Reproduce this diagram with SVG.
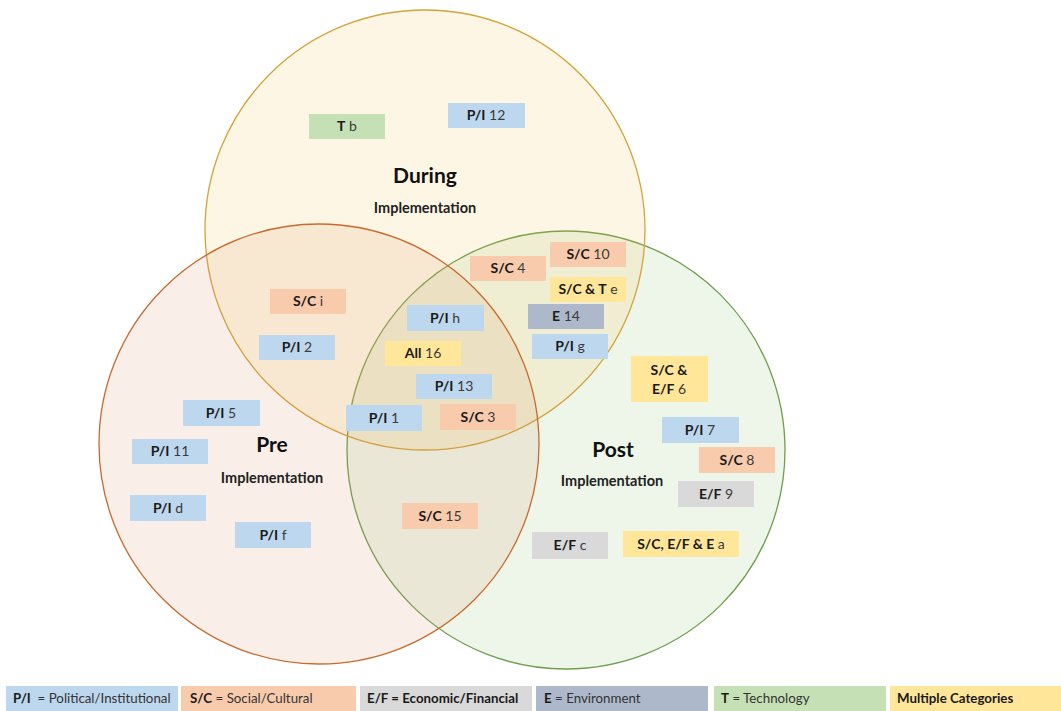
<svg xmlns="http://www.w3.org/2000/svg" width="1061" height="711" viewBox="0 0 1061 711">
  <style>
    .lbl { font-family: Lato, "Liberation Sans", sans-serif; font-size: 14px; fill: #3a3a3a; text-anchor: middle; }
    .lbl .b { font-weight: bold; fill: #1a1a1a; }
    .title { font-family: Lato, "Liberation Sans", sans-serif; font-size: 21px; font-weight: bold; fill: #111; text-anchor: middle; }
    .sub { font-family: Lato, "Liberation Sans", sans-serif; font-size: 14.5px; font-weight: bold; fill: #222; text-anchor: middle; }
    .leg { font-family: Lato, "Liberation Sans", sans-serif; font-size: 13.3px; fill: #333; white-space: pre; }
    .leg .b { font-weight: bold; fill: #1a1a1a; }
    .pi { fill: #BDD7EE; }
    .sc { fill: #F8CBAD; }
    .ef { fill: #D9D9D9; }
    .en { fill: #ADB9CA; }
    .te { fill: #C5E0B4; }
    .mc { fill: #FFE699; }
  </style>
  <rect width="1061" height="711" fill="#ffffff"/>

  <!-- three phase circles -->
  <g id="circles">
    <circle id="post" cx="566" cy="450" r="219" fill="#87BC6C" fill-opacity="0.14" stroke="#6E9E4E" stroke-width="1.3"/>
    <circle id="during" cx="425" cy="230" r="220" fill="#F8BC44" fill-opacity="0.14" stroke="#D4A33A" stroke-width="1.3"/>
    <circle id="pre" cx="319" cy="444" r="220" fill="#D78E5F" fill-opacity="0.14" stroke="#C86A2E" stroke-width="1.3"/>
  </g>

  <!-- phase titles -->
  <g id="titles">
    <text class="title" x="425" y="183">During</text>
    <text class="sub" x="425" y="213">Implementation</text>
    <text class="title" x="272" y="452">Pre</text>
    <text class="sub" x="272" y="483">Implementation</text>
    <text class="title" x="613" y="457">Post</text>
    <text class="sub" x="612" y="486">Implementation</text>
  </g>

  <!-- factor boxes -->
  <g id="nodes">
    <g id="n-tb"><rect class="te" x="309" y="114" width="76" height="25"/><text class="lbl" x="347" y="131"><tspan class="b">T</tspan> b</text></g>
    <g id="n-pi12"><rect class="pi" x="448" y="103" width="77" height="25"/><text class="lbl" x="486" y="120"><tspan class="b">P/I</tspan> 12</text></g>
    <g id="n-sc10"><rect class="sc" x="550" y="242" width="76" height="25"/><text class="lbl" x="588" y="259"><tspan class="b">S/C</tspan> 10</text></g>
    <g id="n-sc4"><rect class="sc" x="470" y="256" width="76" height="25"/><text class="lbl" x="508" y="273"><tspan class="b">S/C</tspan> 4</text></g>
    <g id="n-scte"><rect class="mc" x="550" y="277" width="76" height="25"/><text class="lbl" x="588" y="294"><tspan class="b">S/C &amp; T</tspan> e</text></g>
    <g id="n-sci"><rect class="sc" x="270" y="289" width="76" height="25"/><text class="lbl" x="308" y="306"><tspan class="b">S/C</tspan> i</text></g>
    <g id="n-pih"><rect class="pi" x="407" y="305" width="77" height="26"/><text class="lbl" x="445" y="323"><tspan class="b">P/I</tspan> h</text></g>
    <g id="n-e14"><rect class="en" x="528" y="304" width="76" height="25"/><text class="lbl" x="566" y="321"><tspan class="b">E</tspan> 14</text></g>
    <g id="n-pi2"><rect class="pi" x="259" y="335" width="76" height="25"/><text class="lbl" x="297" y="352"><tspan class="b">P/I</tspan> 2</text></g>
    <g id="n-pig"><rect class="pi" x="532" y="334" width="76" height="25"/><text class="lbl" x="570" y="351"><tspan class="b">P/I</tspan> g</text></g>
    <g id="n-all16"><rect class="mc" x="385" y="341" width="76" height="25"/><text class="lbl" x="423" y="358"><tspan class="b">All</tspan> 16</text></g>
    <g id="n-scef6"><rect class="mc" x="631" y="356" width="77" height="46"/><text class="lbl" x="669" y="375"><tspan class="b">S/C &amp;</tspan></text><text class="lbl" x="669" y="394"><tspan class="b">E/F</tspan> 6</text></g>
    <g id="n-pi13"><rect class="pi" x="416" y="374" width="76" height="25"/><text class="lbl" x="454" y="391"><tspan class="b">P/I</tspan> 13</text></g>
    <g id="n-pi5"><rect class="pi" x="183" y="400" width="77" height="26"/><text class="lbl" x="221" y="418"><tspan class="b">P/I</tspan> 5</text></g>
    <g id="n-pi1"><rect class="pi" x="346" y="405" width="76" height="26"/><text class="lbl" x="384" y="423"><tspan class="b">P/I</tspan> 1</text></g>
    <g id="n-sc3"><rect class="sc" x="440" y="404" width="76" height="26"/><text class="lbl" x="478" y="422"><tspan class="b">S/C</tspan> 3</text></g>
    <g id="n-pi7"><rect class="pi" x="662" y="417" width="77" height="26"/><text class="lbl" x="700" y="435"><tspan class="b">P/I</tspan> 7</text></g>
    <g id="n-pi11"><rect class="pi" x="132" y="439" width="76" height="25"/><text class="lbl" x="170" y="456"><tspan class="b">P/I</tspan> 11</text></g>
    <g id="n-sc8"><rect class="sc" x="699" y="447" width="76" height="26"/><text class="lbl" x="737" y="465"><tspan class="b">S/C</tspan> 8</text></g>
    <g id="n-ef9"><rect class="ef" x="678" y="481" width="76" height="26"/><text class="lbl" x="716" y="499"><tspan class="b">E/F</tspan> 9</text></g>
    <g id="n-pid"><rect class="pi" x="130" y="495" width="76" height="26"/><text class="lbl" x="168" y="513"><tspan class="b">P/I</tspan> d</text></g>
    <g id="n-sc15"><rect class="sc" x="402" y="503" width="76" height="26"/><text class="lbl" x="440" y="521"><tspan class="b">S/C</tspan> 15</text></g>
    <g id="n-pif"><rect class="pi" x="235" y="522" width="76" height="26"/><text class="lbl" x="273" y="540"><tspan class="b">P/I</tspan> f</text></g>
    <g id="n-efc"><rect class="ef" x="532" y="532" width="76" height="27"/><text class="lbl" x="570" y="550"><tspan class="b">E/F</tspan> c</text></g>
    <g id="n-scefea"><rect class="mc" x="623" y="531" width="116" height="26"/><text class="lbl" x="681" y="549"><tspan class="b">S/C, E/F &amp; E</tspan> a</text></g>
  </g>

  <!-- connectors: none in this chart -->
  <g id="connectors"/>

  <!-- category legend -->
  <g id="legend">
    <g id="leg-pi"><rect class="pi" x="6" y="686" width="172" height="25"/><text class="leg" x="13" y="703"><tspan class="b">P/I</tspan>  = Political/Institutional</text></g>
    <g id="leg-sc"><rect class="sc" x="181" y="686" width="175" height="25"/><text class="leg" x="190" y="703"><tspan class="b">S/C</tspan> = Social/Cultural</text></g>
    <g id="leg-ef"><rect class="ef" x="360" y="686" width="172" height="25"/><text class="leg" x="367" y="703"><tspan class="b">E/F = Economic/Financial</tspan></text></g>
    <g id="leg-e"><rect class="en" x="536" y="686" width="172" height="25"/><text class="leg" x="544" y="703"><tspan class="b">E</tspan> = Environment</text></g>
    <g id="leg-t"><rect class="te" x="714" y="686" width="172" height="25"/><text class="leg" x="721" y="703"><tspan class="b">T</tspan> = Technology</text></g>
    <g id="leg-mc"><rect class="mc" x="890" y="686" width="171" height="25"/><text class="leg" x="897" y="703"><tspan class="b">Multiple Categories</tspan></text></g>
  </g>
</svg>
